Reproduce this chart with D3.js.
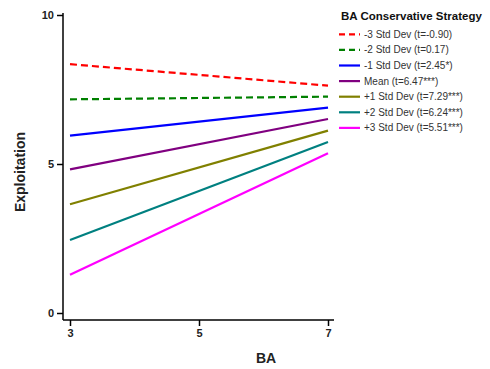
<!DOCTYPE html>
<html>
<head>
<meta charset="utf-8">
<script src="https://cdn.jsdelivr.net/npm/d3@7"></script>
<style>
  body { margin: 0; background: #fff; }
  text { font-family: "Liberation Sans", Arial, sans-serif; }
</style>
</head>
<body>
<div id="chart"></div>
<script>
// data
const xLevels = [3, 7];
const groups = ["-3 Std Dev (t=-0.90)", "-2 Std Dev (t=0.17)", "-1 Std Dev (t=2.45*)", "Mean (t=6.47***)",
                "+1 Std Dev (t=7.29***)", "+2 Std Dev (t=6.24***)", "+3 Std Dev (t=5.51***)"];
const atLow  = [8.35, 7.17, 5.95, 4.82, 3.65, 2.45, 1.28];
const atHigh = [7.63, 7.26, 6.89, 6.51, 6.12, 5.74, 5.36];
const colors = ["#ff0000", "#008000", "#0000ff", "#800080", "#808000", "#008080", "#ff00ff"];
const dashed = [true, true, false, false, false, false, false];
const xTicks = [3, 5, 7];
const yTicks = [0, 5, 10];

const width = 490, height = 369;

const svg = d3.select("#chart").append("svg")
  .attr("width", width)
  .attr("height", height);

// scales
const x = d3.scaleLinear().domain([3, 7]).range([70, 328]);
const y = d3.scaleLinear().domain([0, 10]).range([313, 15]);

// axes
const xAxis = svg.append("g")
  .attr("transform", "translate(0,320)")
  .call(d3.axisBottom(x).tickValues(xTicks).tickFormat(d3.format("d")).tickSize(6).tickPadding(3));
xAxis.select(".domain").attr("d", "M63,0H334");

const yAxis = svg.append("g")
  .attr("transform", "translate(63,0)")
  .call(d3.axisLeft(y).tickValues(yTicks).tickFormat(d3.format("d")).tickSize(6).tickPadding(3));
yAxis.select(".domain").attr("d", "M0,13V320");

svg.selectAll(".tick line").attr("stroke", "#000").attr("stroke-width", 1.5);
svg.selectAll(".domain").attr("stroke", "#000").attr("stroke-width", 1.5);
svg.selectAll(".tick text")
  .attr("fill", "#222")
  .style("font-size", "11px")
  .style("font-weight", "bold")
  .style("font-family", "'Liberation Sans', Arial, sans-serif");

// axis titles
svg.append("text")
  .attr("x", 266).attr("y", 363)
  .attr("text-anchor", "middle")
  .style("font-size", "14px").style("font-weight", "bold")
  .attr("fill", "#222")
  .text("BA");

svg.append("text")
  .attr("transform", "translate(25,172) rotate(-90)")
  .attr("text-anchor", "middle")
  .style("font-size", "14px").style("font-weight", "bold")
  .attr("fill", "#222")
  .text("Exploitation");

// lines
const line = d3.line().x(d => x(d[0])).y(d => y(d[1]));

groups.forEach((g, i) => {
  const pts = [[xLevels[0], atLow[i]], [xLevels[1], atHigh[i]]];
  svg.append("path")
    .datum(pts)
    .attr("d", line)
    .attr("fill", "none")
    .attr("stroke", colors[i])
    .attr("stroke-width", 2.2)
    .attr("stroke-dasharray", dashed[i] ? "7,4" : null);
});

// legend
const legend = svg.append("g");
legend.append("text")
  .attr("x", 341).attr("y", 20)
  .style("font-size", "11.5px").style("font-weight", "bold")
  .attr("fill", "#111")
  .text("BA Conservative Strategy");

groups.forEach((g, i) => {
  const ly = 34.3 + i * 15.6;
  legend.append("line")
    .attr("x1", 339).attr("x2", 360)
    .attr("y1", ly).attr("y2", ly)
    .attr("stroke", colors[i])
    .attr("stroke-width", 2.2)
    .attr("stroke-dasharray", dashed[i] ? "6,4" : null);
  legend.append("text")
    .attr("x", 364).attr("y", ly + 3.5)
    .style("font-size", "10px")
    .attr("fill", "#333")
    .text(g);
});
</script>
</body>
</html>
